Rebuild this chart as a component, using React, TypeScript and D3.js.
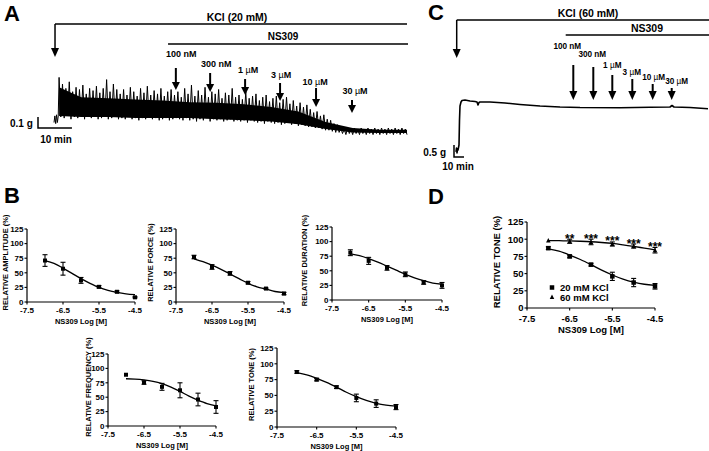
import React from "react";
import * as d3 from "d3";

const FONT = "'Liberation Sans', Arial, Helvetica, sans-serif";
const W = 709;
const H = 451;

// ---------------- Panel A: KCl 20 mM trace (g vs min) ----------------
const traceAPreTimes = [0, 0.25, 0.5, 0.75, 1.0, 1.25];
const traceAPreValues = [0.05, 0.11, 0.04, 0.12, 0.05, 0.11];
const traceAStart = 1.5;
const traceAStep = 1;
const traceAPeaks = [
  0.46, 0.40, 0.36, 0.42, 0.33, 0.37, 0.35, 0.39, 0.31, 0.36, 0.34, 0.38, 0.32,
  0.36, 0.44, 0.33, 0.40, 0.35,
  0.31, 0.35, 0.30, 0.37, 0.33, 0.29, 0.36, 0.32, 0.38, 0.30, 0.34, 0.31, 0.36, 0.29, 0.33, 0.35, 0.30,
  0.33, 0.28, 0.36, 0.31, 0.39, 0.29, 0.34, 0.30, 0.37, 0.28, 0.33, 0.31, 0.35, 0.27, 0.32, 0.30, 0.36, 0.28,
  0.30, 0.26, 0.33, 0.27, 0.29, 0.31, 0.25, 0.28, 0.30, 0.24, 0.27, 0.29, 0.23, 0.26, 0.28,
  0.22, 0.25, 0.20, 0.23, 0.19, 0.21,
  0.17, 0.14, 0.15, 0.11, 0.12, 0.08, 0.07, 0.04, 0.03,
  0.00, -0.01, 0.00, -0.01, 0.00, -0.01, 0.00, -0.01, 0.00, -0.01, 0.00, -0.01, 0.00, -0.01, 0.00, -0.01, 0.00, -0.01, 0.00, -0.01,
];
const traceATroughs = [
  0.10, 0.09, 0.11, 0.08, 0.10, 0.09, 0.11, 0.08, 0.10, 0.09, 0.10, 0.08, 0.09,
  0.10, 0.08, 0.09, 0.10, 0.08,
  0.09, 0.08, 0.10, 0.08, 0.09, 0.07, 0.09, 0.08, 0.10, 0.08, 0.09, 0.07, 0.08, 0.09, 0.07, 0.08, 0.09,
  0.08, 0.07, 0.09, 0.07, 0.08, 0.06, 0.08, 0.07, 0.09, 0.06, 0.08, 0.07, 0.08, 0.06, 0.07, 0.08, 0.06, 0.07,
  0.06, 0.07, 0.05, 0.07, 0.06, 0.05, 0.06, 0.04, 0.06, 0.05, 0.04, 0.05, 0.03, 0.04, 0.05,
  0.03, 0.04, 0.02, 0.03, 0.02, 0.01,
  0.01, 0.00, 0.00, -0.01, -0.02, -0.02, -0.03, -0.04, -0.04,
  -0.05, -0.06, -0.05, -0.06, -0.05, -0.06, -0.05, -0.06, -0.05, -0.06, -0.05, -0.06, -0.05, -0.06, -0.05, -0.06, -0.05, -0.06, -0.05, -0.06,
];
const traceACoreTimes = [1.5, 8, 16, 24, 32, 40, 48, 56, 64, 72, 80, 88, 96, 104];
const traceACoreUpper = [0.37, 0.28, 0.27, 0.26, 0.25, 0.235, 0.23, 0.215, 0.19, 0.15, 0.055, 0.0, -0.015, -0.015];
const traceACoreLower = [0.11, 0.10, 0.10, 0.09, 0.09, 0.09, 0.08, 0.07, 0.06, 0.035, -0.01, -0.04, -0.045, -0.045];

const doseLabels = ["100 nM", "300 nM", "1 µM", "3 µM", "10 µM", "30 µM"];
const additionTimesA = [35.9, 46, 56.3, 66.6, 77.2, 87.8];
const kclTimeA = 0.3;
const ns309TimeA = 33.6;
const endTimeA = 104;

// ---------------- Panel C: KCl 60 mM trace ----------------
const traceCTimes = [0, 0.5, 1, 1.5, 2, 3, 3.5, 4, 5, 6, 9, 14, 19, 21, 22, 23, 24, 34, 49, 64, 84, 104, 124, 164, 194, 214, 216, 218, 234, 252];
const traceCValues = [0.21, 0.375, 0.17, 0.33, 0.29, 0.5, 1.54, 2.125, 2.29, 2.354, 2.375, 2.333, 2.31, 2.29, 2.17, 2.27, 2.29, 2.29, 2.25, 2.19, 2.125, 2.083, 2.06, 2.054, 2.07, 2.083, 2.146, 2.083, 2.06, 2.01];
const additionTimesC = [117.3, 137.3, 156.3, 176.3, 196.7, 215.7];
const kclTimeC = 0.7;
const ns309TimeC = 109.7;
const endTimeC = 253;

// ---------------- Dose-response data ----------------
const doses = [-7, -6.5, -6, -5.5, -5, -4.5];
const fitDoses = [-7, -6.75, -6.5, -6.25, -6, -5.75, -5.5, -5.25, -5, -4.75, -4.5];
const xTickValues = [-7.5, -6.5, -5.5, -4.5];
const yTickValues = [0, 25, 50, 75, 100, 125];

const amplitudeMean = [71, 57, 37, 26, 17.5, 8];
const amplitudeSem = [10, 11, 5, 2, 1.5, 1];
const amplitudeFit = [71, 66, 58, 49, 40, 32, 25, 20, 16.5, 14, 12.5];

const forceMean = [77, 60, 49, 33, 23, 14.5];
const forceSem = [3, 4, 3, 2, 1, 2];
const forceFit = [74, 69, 63, 56, 48, 40, 32, 26, 22, 18, 16];

const durationMean = [81, 67, 55, 44, 30, 25];
const durationSem = [5, 6, 4, 4, 3, 5];
const durationFit = [79, 76, 71, 65, 58, 51, 44, 38, 33, 29, 27];

const frequencyMean = [89, 75.5, 68, 62, 46, 33];
const frequencySem = [0, 3, 6, 13, 11, 11];
const frequencyFit = [82, 81.5, 80, 77.5, 73.5, 67.5, 60, 52, 45, 39, 35];

const tone20Mean = [87, 75, 63, 46, 37, 31.5];
const tone20Sem = [2, 2, 2, 6, 6, 4];
const tone20Fit = [86, 82.5, 77, 70.5, 63, 55, 48, 42, 37.5, 34.5, 33];

const tone60Mean = [98, 97, 96, 93, 90, 84];
const tone60Sem = [0, 3, 4, 3, 3, 4];
const tone60Fit = [98, 97.8, 97.5, 97, 96.3, 95.2, 93.8, 91.8, 89.5, 87, 84.5];

const significance = ["", "**", "***", "***", "***", "***"];
const legendLabels = ["20 mM KCl", "60 mM KCl"];

// ---------------- layout (not data) ----------------
const arrowTopA = [68, 73, 79, 83, 88, 100];
const arrowTipA = [90, 92, 95, 101, 107, 113];
const labelYA = [57, 67, 73, 78, 85, 94];
const labelDxA = [5.5, 6, 3, 1, -1, 3];
const arrowTopC = [65, 67, 75, 79, 84, 88];
const labelYC = [49, 57, 68, 75, 80, 84];
const labelDxC = [-6, -1, 0, -0.5, 1, 5];

function Arrow({ x, y1, y2, w = 2, head = 8, hw = 4 }: any) {
  return (
    <g>
      <line x1={x} x2={x} y1={y1} y2={y2 - head + 1} stroke="#000" strokeWidth={w} />
      <path d={`M${x - hw},${y2 - head}L${x + hw},${y2 - head}L${x},${y2}Z`} fill="#000" />
    </g>
  );
}

function DoseLabel({ x, y, text, size }: any) {
  const parts = text.split("µ");
  return (
    <text x={x} y={y} textAnchor="middle" fontSize={size} fontWeight="bold" fontFamily={FONT}>
      {parts[0]}
      {parts.length > 1 ? <tspan fontWeight="normal">µ</tspan> : null}
      {parts.length > 1 ? parts[1] : null}
    </text>
  );
}

function Marker({ x, y, type, s }: any) {
  if (type === "triangle") {
    const h = s * 0.9;
    return <path d={`M${x},${y - h / 2 - 0.5}L${x + s / 2},${y + h / 2}L${x - s / 2},${y + h / 2}Z`} fill="#000" />;
  }
  return <rect x={x - s / 2} y={y - s / 2} width={s} height={s} fill="#000" />;
}

function DosePlot(props: any) {
  const {
    x0, x1, yTop, yBot, series, ylabel, ylabelX,
    tickFont = 8, titleFont = 7.5, ylabelFont = 7.5, tickDy = 11, titleDy = 22,
    markerSize = 4, extra,
  } = props;
  const xs = d3.scaleLinear().domain([-7.5, -4.5]).range([x0, x1]);
  const ys = d3.scaleLinear().domain([0, 125]).range([yBot, yTop]);
  const line = d3
    .line<number>()
    .x((_, i) => xs(fitDoses[i]))
    .y((d) => ys(d))
    .curve(d3.curveMonotoneX);
  const cy = (yTop + yBot) / 2 - 3;
  return (
    <g fontFamily={FONT}>
      <line x1={x0} x2={x0} y1={yBot + 0.6} y2={yTop} stroke="#000" strokeWidth={1.2} />
      <line x1={x0} x2={x1} y1={yBot} y2={yBot} stroke="#000" strokeWidth={1.2} />
      {yTickValues.map((v) => (
        <g key={"y" + v}>
          <line x1={x0 - 2.5} x2={x0} y1={ys(v)} y2={ys(v)} stroke="#000" strokeWidth={1.1} />
          <text x={x0 - 3.5} y={ys(v)} dy="0.36em" textAnchor="end" fontSize={tickFont} fontWeight="bold">
            {v}
          </text>
        </g>
      ))}
      {xTickValues.map((v) => (
        <g key={"x" + v}>
          <line x1={xs(v)} x2={xs(v)} y1={yBot} y2={yBot + 2.5} stroke="#000" strokeWidth={1.1} />
          <text x={xs(v)} y={yBot + tickDy} textAnchor="middle" fontSize={tickFont} fontWeight="bold">
            {v.toFixed(1)}
          </text>
        </g>
      ))}
      <text x={(x0 + x1) / 2} y={yBot + titleDy} textAnchor="middle" fontSize={titleFont} fontWeight="bold">
        NS309 Log [M]
      </text>
      <text
        transform={`translate(${ylabelX + 0.36 * ylabelFont},${cy}) rotate(-90)`}
        textAnchor="middle"
        fontSize={ylabelFont}
        fontWeight="bold"
      >
        {ylabel}
      </text>
      {series.map((s: any, si: number) => (
        <g key={"s" + si}>
          <path d={line(s.fit) || ""} fill="none" stroke="#000" strokeWidth={1.3} />
          {doses.map((d, i) =>
            s.sem[i] > 0 ? (
              <g key={"e" + i} stroke="#000" strokeWidth={1.1}>
                <line x1={xs(d)} x2={xs(d)} y1={ys(s.mean[i] - s.sem[i])} y2={ys(s.mean[i] + s.sem[i])} />
                <line x1={xs(d) - 2.5} x2={xs(d) + 2.5} y1={ys(s.mean[i] - s.sem[i])} y2={ys(s.mean[i] - s.sem[i])} />
                <line x1={xs(d) - 2.5} x2={xs(d) + 2.5} y1={ys(s.mean[i] + s.sem[i])} y2={ys(s.mean[i] + s.sem[i])} />
              </g>
            ) : null
          )}
          {doses.map((d, i) => (
            <Marker key={"m" + i} x={xs(d)} y={ys(s.mean[i])} type={s.marker} s={markerSize} />
          ))}
        </g>
      ))}
      {extra ? extra(xs, ys) : null}
    </g>
  );
}

export default function App() {
  // Panel A scales
  const xA = d3.scaleLinear().domain([0, 104]).range([54, 407]);
  const yA = d3.scaleLinear().domain([0, 0.5]).range([128, 73]);
  const ptsA: [number, number][] = [];
  traceAPreTimes.forEach((t, i) => ptsA.push([t, traceAPreValues[i]]));
  traceAPeaks.forEach((p, i) => {
    const t = traceAStart + i * traceAStep;
    ptsA.push([t, p]);
    ptsA.push([t + traceAStep / 2, traceATroughs[i]]);
  });
  const lineA = d3.line<[number, number]>().x((d) => xA(d[0])).y((d) => yA(d[1]));
  const areaA = d3
    .area<number>()
    .x((t) => xA(t))
    .y0((_, i) => yA(traceACoreLower[i]))
    .y1((_, i) => yA(traceACoreUpper[i]));

  // Panel C scales
  const xC = d3.scaleLinear().domain([0, 252]).range([456, 708]);
  const yC = d3.scaleLinear().domain([0, 3]).range([157, 85]);
  const lineC = d3
    .line<number>()
    .x((_, i) => xC(traceCTimes[i]))
    .y((d) => yC(d));

  const kxA = xA(kclTimeA);
  const kxC = xC(kclTimeC);

  return (
    <svg
      width={W}
      height={H}
      viewBox={`0 0 ${W} ${H}`}
      style={{ position: "absolute", left: 0, top: 0, background: "#fff" }}
      fontFamily={FONT}
    >
      <rect x={0} y={0} width={W} height={H} fill="#fff" />
      {/* Panel letters */}
      <text x={4} y={21} fontSize={22} fontWeight="bold">A</text>
      <text x={428} y={20} fontSize={22} fontWeight="bold">C</text>
      <text x={4} y={203} fontSize={22} fontWeight="bold">B</text>
      <text x={428} y={204} fontSize={22} fontWeight="bold">D</text>

      {/* ---------- Panel A ---------- */}
      <line x1={kxA} x2={xA(endTimeA)} y1={24} y2={24} stroke="#000" strokeWidth={1.5} />
      <Arrow x={kxA} y1={24} y2={57} w={1.5} head={9} hw={4} />
      <text x={237} y={21} textAnchor="middle" fontSize={10.5} fontWeight="bold">KCl (20 mM)</text>
      <line x1={xA(ns309TimeA)} x2={xA(endTimeA) + 1} y1={44} y2={44} stroke="#000" strokeWidth={1.5} />
      <text x={283} y={40} textAnchor="middle" fontSize={10} fontWeight="bold">NS309</text>
      {additionTimesA.map((t, i) => (
        <g key={"aa" + i}>
          <Arrow x={xA(t)} y1={arrowTopA[i]} y2={arrowTipA[i]} w={2} head={8} hw={4} />
          <DoseLabel x={xA(t) + labelDxA[i]} y={labelYA[i]} text={doseLabels[i]} size={9} />
        </g>
      ))}
      <path d={areaA(traceACoreTimes) || ""} fill="#000" />
      <path d={lineA(ptsA) || ""} fill="none" stroke="#000" strokeWidth={1} strokeLinejoin="round" />
      {/* scale bar A */}
      <path
        d={`M38,${yA(0.1) - yA(0) + 128}L38,128L${38 + xA(10) - xA(0)},128`}
        fill="none"
        stroke="#000"
        strokeWidth={1.5}
      />
      <text x={10} y={127} fontSize={10} fontWeight="bold">0.1 g</text>
      <text x={56} y={143} textAnchor="middle" fontSize={10} fontWeight="bold">10 min</text>

      {/* ---------- Panel C ---------- */}
      <line x1={kxC} x2={xC(endTimeC)} y1={20} y2={20} stroke="#000" strokeWidth={1.5} />
      <Arrow x={kxC} y1={20} y2={58} w={1.5} head={9} hw={4} />
      <text x={588} y={17} textAnchor="middle" fontSize={10.5} fontWeight="bold">KCl (60 mM)</text>
      <line x1={xC(ns309TimeC)} x2={xC(endTimeC)} y1={35} y2={35} stroke="#000" strokeWidth={1.5} />
      <text x={647} y={32} textAnchor="middle" fontSize={10.5} fontWeight="bold">NS309</text>
      {additionTimesC.map((t, i) => (
        <g key={"ca" + i}>
          <Arrow x={xC(t)} y1={arrowTopC[i]} y2={100} w={2} head={9} hw={4} />
          <DoseLabel x={xC(t) + labelDxC[i]} y={labelYC[i]} text={doseLabels[i]} size={8.2} />
        </g>
      ))}
      <path d={lineC(traceCValues) || ""} fill="none" stroke="#000" strokeWidth={1.6} strokeLinejoin="round" />
      <path
        d={`M454,${yC(0.5) - yC(0) + 157}L454,157L${454 + xC(10) - xC(0)},157`}
        fill="none"
        stroke="#000"
        strokeWidth={1.5}
      />
      <text x={446} y={156} textAnchor="end" fontSize={10} fontWeight="bold">0.5 g</text>
      <text x={458} y={170} textAnchor="middle" fontSize={10} fontWeight="bold">10 min</text>

      {/* ---------- Panel B ---------- */}
      <DosePlot
        x0={27} x1={135} yTop={229} yBot={302} ylabelX={5.5}
        ylabel="RELATIVE AMPLITUDE (%)"
        series={[{ mean: amplitudeMean, sem: amplitudeSem, fit: amplitudeFit, marker: "square" }]}
      />
      <DosePlot
        x0={176} x1={284} yTop={229} yBot={302} ylabelX={150.5}
        ylabel="RELATIVE FORCE (%)"
        series={[{ mean: forceMean, sem: forceSem, fit: forceFit, marker: "square" }]}
      />
      <DosePlot
        x0={332} x1={442} yTop={227} yBot={300} ylabelX={304.5}
        ylabel="RELATIVE DURATION (%)"
        series={[{ mean: durationMean, sem: durationSem, fit: durationFit, marker: "square" }]}
      />
      <DosePlot
        x0={108} x1={216} yTop={354} yBot={426} ylabelX={88}
        ylabel="RELATIVE FREQUENCY (%)"
        series={[{ mean: frequencyMean, sem: frequencySem, fit: frequencyFit, marker: "square" }]}
      />
      <DosePlot
        x0={277} x1={396} yTop={348} yBot={427} ylabelX={251.5}
        ylabel="RELATIVE TONE (%)"
        series={[{ mean: tone20Mean, sem: tone20Sem, fit: tone20Fit, marker: "square" }]}
      />

      {/* ---------- Panel D ---------- */}
      <DosePlot
        x0={527} x1={655} yTop={222} yBot={308} ylabelX={496.5}
        ylabel="RELATIVE TONE (%)"
        tickFont={9.5} titleFont={9.5} ylabelFont={9.5} tickDy={13.5} titleDy={24.5}
        markerSize={4.5}
        series={[
          { mean: tone20Mean, sem: tone20Sem, fit: tone20Fit, marker: "square" },
          { mean: tone60Mean, sem: tone60Sem, fit: tone60Fit, marker: "triangle" },
        ]}
        extra={(xs: any, ys: any) => (
          <g>
            {doses.map((d, i) =>
              significance[i] ? (
                <text
                  key={"st" + i}
                  x={xs(d)}
                  y={ys(tone60Mean[i] + tone60Sem[i]) - 3.5 + 7}
                  textAnchor="middle"
                  fontSize={12}
                  fontWeight="bold"
                >
                  {significance[i]}
                </text>
              ) : null
            )}
            <Marker x={552} y={287.5} type="square" s={4.5} />
            <text x={560} y={291} fontSize={9.5} fontWeight="bold">{legendLabels[0]}</text>
            <Marker x={552} y={297} type="triangle" s={4.5} />
            <text x={560} y={300.5} fontSize={9.5} fontWeight="bold">{legendLabels[1]}</text>
          </g>
        )}
      />
    </svg>
  );
}
